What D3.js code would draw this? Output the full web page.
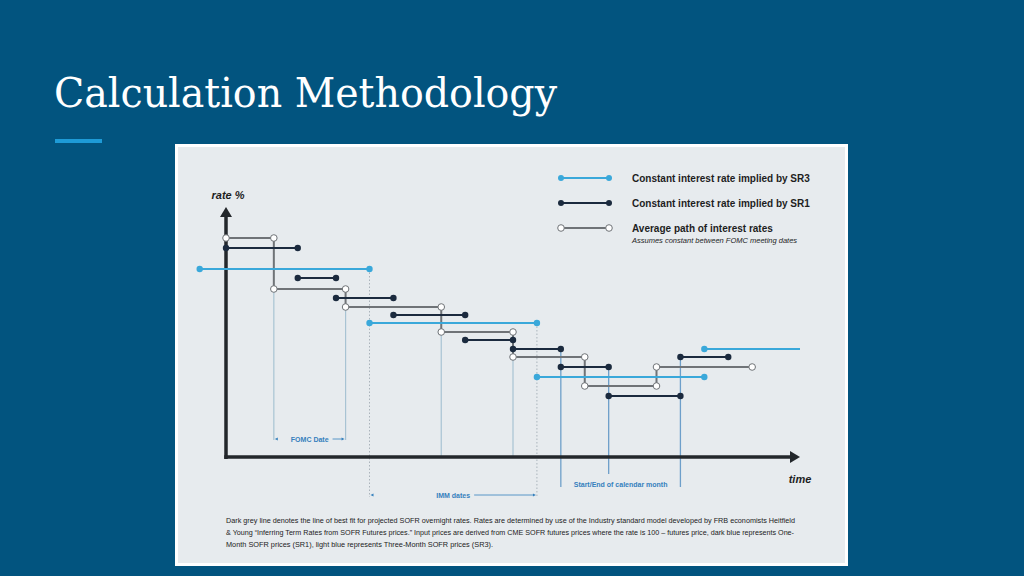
<!DOCTYPE html>
<html>
<head>
<meta charset="utf-8">
<script src="https://cdn.jsdelivr.net/npm/d3@7"></script>
<style>
  html, body { margin: 0; padding: 0; background: #02547f; }
  svg { display: block; }
</style>
</head>
<body>
<div id="chart"></div>
<script>
// ---------- data (time in weeks from start, rate in %) ----------
const avgBreaks = [0, 2, 5, 9, 12, 15, 18, 22];
const avgRates  = [4.38, 3.36, 3.0, 2.5, 2.0, 1.42, 1.8];

const sr1Start = [0, 3, 4.6, 7, 10, 12, 14, 16, 19];
const sr1End   = [3, 4.6, 7, 10, 12, 14, 16, 19, 21];
const sr1Rates = [4.18, 3.58, 3.18, 2.84, 2.34, 2.16, 1.8, 1.22, 2.0];

const sr3Start = [-1.1, 6, 13, 20];
const sr3End   = [6, 13, 20, 24];
const sr3Rates = [3.76, 2.68, 1.6, 2.16];
const sr3EndDot = [true, true, true, false];

const fomcDates  = [2, 5, 9, 12];
const fomcTops   = [3.36, 3.0, 2.5, 2.0];
const immDates   = [6, 13];
const immTops    = [3.76, 2.68];
const monthDates = [14, 16, 19];
const monthTops  = [2.16, 1.8, 2.0];

const legendLabels = ["Constant interest rate implied by SR3", "Constant interest rate implied by SR1", "Average path of interest rates"];
const legendNote = "Assumes constant between FOMC meeting dates";
const title = "Calculation Methodology";
const footnote = [
  "Dark grey line denotes the line of best fit for projected SOFR overnight rates. Rates are determined by use of the Industry standard model developed by  FRB economists Heitfield",
  "& Young \u201cInferring Term Rates from SOFR Futures prices.\u201d Input prices are derived from CME SOFR futures prices where the rate is  100 \u2013 futures price, dark blue represents One-",
  "Month SOFR prices (SR1), light blue represents Three-Month SOFR prices (SR3)."
];

// ---------- styles ----------
const C = {
  bg: "#02547f", card: "#e7ebee", accent: "#1e9bd7",
  sr3: "#3aa8da", sr1: "#1b2a3e", avg: "#6f7377",
  axis: "#23272b", fomc: "#a8c3d3", month: "#6e9fca", imm: "#aab3bb",
  note: "#3580bd", text: "#1e1e1e"
};

const W = 1024, H = 576;
const svg = d3.select("#chart").append("svg").attr("width", W).attr("height", H);
svg.append("rect").attr("width", W).attr("height", H).attr("fill", C.bg);

// title
svg.append("text").attr("x", 54).attr("y", 107)
  .attr("font-family", "'Roboto Slab','DejaVu Serif',serif").attr("font-size", 41)
  .attr("fill", "#ffffff").attr("textLength", 503).attr("lengthAdjust", "spacingAndGlyphs")
  .text(title);
svg.append("rect").attr("x", 55).attr("y", 139).attr("width", 47).attr("height", 4).attr("fill", C.accent);

// card
svg.append("rect").attr("x", 176.5).attr("y", 145.5).attr("width", 670).attr("height", 419)
  .attr("fill", C.card).attr("stroke", "#ffffff").attr("stroke-width", 3);

const x = d3.scaleLinear().domain([0, 24]).range([226, 800]);
const y = d3.scaleLinear().domain([0, 5]).range([457, 207]);
const y0 = y(0);
const g = svg.append("g");

// ---------- reference lines ----------
fomcDates.forEach((d, i) => {
  const bottom = i < 2 ? y0 - 17 : y0;
  g.append("line").attr("x1", x(d)).attr("x2", x(d)).attr("y1", y(fomcTops[i])).attr("y2", bottom)
    .attr("stroke", C.fomc).attr("stroke-width", 1.2);
});
monthDates.forEach((d, i) => {
  const bottom = i === 1 ? y0 + 17 : y0 + 30;
  g.append("line").attr("x1", x(d)).attr("x2", x(d)).attr("y1", y(monthTops[i])).attr("y2", bottom)
    .attr("stroke", C.month).attr("stroke-width", 1.3);
});
immDates.forEach((d, i) => {
  g.append("line").attr("x1", x(d)).attr("x2", x(d)).attr("y1", y(immTops[i])).attr("y2", y0 + 40)
    .attr("stroke", C.imm).attr("stroke-width", 1).attr("stroke-dasharray", "1.5,2");
});

// ---------- axes ----------
g.append("line").attr("x1", x(0)).attr("x2", x(0)).attr("y1", y0 + 2).attr("y2", y(4.8))
  .attr("stroke", C.axis).attr("stroke-width", 3.5);
g.append("path").attr("d", `M${x(0)},${y(5)} L${x(0)-6},${y(5)+10} L${x(0)+6},${y(5)+10} Z`).attr("fill", C.axis);
g.append("line").attr("x1", x(0) - 1.75).attr("x2", x(23.6)).attr("y1", y0).attr("y2", y0)
  .attr("stroke", C.axis).attr("stroke-width", 3.5);
g.append("path").attr("d", `M${x(24)},${y0} L${x(24)-10},${y0-6} L${x(24)-10},${y0+6} Z`).attr("fill", C.axis);

g.append("text").attr("x", 228).attr("y", 199).attr("text-anchor", "middle")
  .attr("font-family", "'Liberation Sans',Arial,sans-serif").attr("font-weight", "bold").attr("font-style", "italic")
  .attr("font-size", 11).attr("fill", C.text).text("rate %");
g.append("text").attr("x", 800).attr("y", 483).attr("text-anchor", "middle")
  .attr("font-family", "'Liberation Sans',Arial,sans-serif").attr("font-weight", "bold").attr("font-style", "italic")
  .attr("font-size", 11).attr("fill", C.text).text("time");

// ---------- annotations ----------
function bracket(x1, x2, yy, label) {
  const cx = (x1 + x2) / 2;
  const t = g.append("text").attr("x", cx).attr("y", yy + 2.5).attr("text-anchor", "middle")
    .attr("font-family", "'Liberation Sans',Arial,sans-serif").attr("font-weight", "bold")
    .attr("font-size", 7).attr("fill", C.note).text(label);
  const w = t.node().getComputedTextLength();
  g.append("path").attr("d", `M${x1+1},${yy} L${x1+4},${yy-1.5} L${x1+4},${yy+1.5} Z`).attr("fill", C.note);
  g.append("line").attr("x1", cx + w/2 + 4).attr("x2", x2 - 3).attr("y1", yy).attr("y2", yy)
    .attr("stroke", C.note).attr("stroke-width", 0.8);
  g.append("path").attr("d", `M${x2-1},${yy} L${x2-4},${yy-1.5} L${x2-4},${yy+1.5} Z`).attr("fill", C.note);
}
bracket(x(fomcDates[0]), x(fomcDates[1]), y0 - 18, "FOMC Date");
bracket(x(immDates[0]), x(immDates[1]), y0 + 38, "IMM dates");
g.append("text").attr("x", (x(monthDates[0]) + x(monthDates[2])) / 2).attr("y", y0 + 30)
  .attr("text-anchor", "middle").attr("font-family", "'Liberation Sans',Arial,sans-serif")
  .attr("font-weight", "bold").attr("font-size", 7).attr("fill", C.note).text("Start/End of calendar month");

// ---------- series ----------
const avgPts = avgRates.map((r, i) => [avgBreaks[i], r]);
avgPts.push([avgBreaks[avgBreaks.length - 1], avgRates[avgRates.length - 1]]);
const stepLine = d3.line().x(d => x(d[0])).y(d => y(d[1])).curve(d3.curveStepAfter);
g.append("path").attr("d", stepLine(avgPts)).attr("fill", "none")
  .attr("stroke", C.avg).attr("stroke-width", 2);

sr3Rates.forEach((r, i) => {
  g.append("line").attr("x1", x(sr3Start[i])).attr("x2", x(sr3End[i])).attr("y1", y(r)).attr("y2", y(r))
    .attr("stroke", C.sr3).attr("stroke-width", 2);
});
sr1Rates.forEach((r, i) => {
  g.append("line").attr("x1", x(sr1Start[i])).attr("x2", x(sr1End[i])).attr("y1", y(r)).attr("y2", y(r))
    .attr("stroke", C.sr1).attr("stroke-width", 2.2);
});

// markers
avgRates.forEach((r, i) => {
  [avgBreaks[i], avgBreaks[i + 1]].forEach(d => {
    g.append("circle").attr("cx", x(d)).attr("cy", y(r)).attr("r", 3.3)
      .attr("fill", "#ffffff").attr("stroke", C.avg).attr("stroke-width", 1);
  });
});
sr3Rates.forEach((r, i) => {
  g.append("circle").attr("cx", x(sr3Start[i])).attr("cy", y(r)).attr("r", 3.2).attr("fill", C.sr3);
  if (sr3EndDot[i]) g.append("circle").attr("cx", x(sr3End[i])).attr("cy", y(r)).attr("r", 3.2).attr("fill", C.sr3);
});
sr1Rates.forEach((r, i) => {
  g.append("circle").attr("cx", x(sr1Start[i])).attr("cy", y(r)).attr("r", 3.2).attr("fill", C.sr1);
  g.append("circle").attr("cx", x(sr1End[i])).attr("cy", y(r)).attr("r", 3.2).attr("fill", C.sr1);
});

// ---------- legend ----------
const legColors = [C.sr3, C.sr1, C.avg];
const legY = [178, 203, 228];
legendLabels.forEach((lab, i) => {
  const ly = legY[i];
  g.append("line").attr("x1", 561).attr("x2", 609).attr("y1", ly).attr("y2", ly)
    .attr("stroke", legColors[i]).attr("stroke-width", 2);
  [561, 609].forEach(cx => {
    if (i < 2) g.append("circle").attr("cx", cx).attr("cy", ly).attr("r", 3).attr("fill", legColors[i]);
    else g.append("circle").attr("cx", cx).attr("cy", ly).attr("r", 3.3).attr("fill", "#fff")
      .attr("stroke", C.avg).attr("stroke-width", 1);
  });
  g.append("text").attr("x", 632).attr("y", ly + 3.6)
    .attr("font-family", "'Liberation Sans',Arial,sans-serif").attr("font-weight", "bold")
    .attr("font-size", 10).attr("fill", C.text).text(lab);
});
g.append("text").attr("x", 632).attr("y", 243)
  .attr("font-family", "'Liberation Sans',Arial,sans-serif").attr("font-style", "italic")
  .attr("font-size", 7.5).attr("fill", C.text).text(legendNote);

// ---------- footnote ----------
const fnLen = [569, 568, 267];
footnote.forEach((line, i) => {
  g.append("text").attr("x", 226).attr("y", 523 + i * 12)
    .attr("font-family", "'Liberation Sans',Arial,sans-serif").attr("font-size", 8)
    .attr("fill", "#222222").attr("textLength", fnLen[i]).attr("lengthAdjust", "spacingAndGlyphs")
    .text(line);
});
</script>
</body>
</html>
